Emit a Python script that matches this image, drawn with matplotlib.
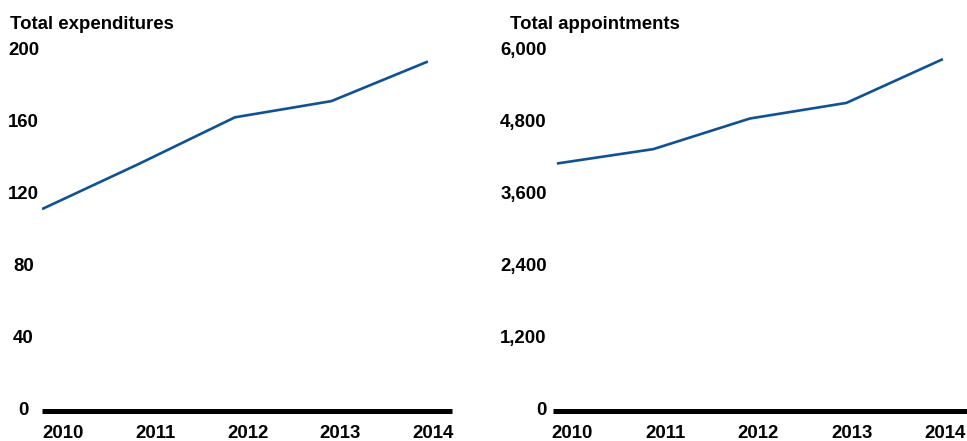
import numpy as np
import matplotlib
matplotlib.use('Agg')
import matplotlib.pyplot as plt

plt.rcParams['font.family'] = ['Liberation Sans', 'DejaVu Sans']
plt.rcParams['font.weight'] = 'bold'

years = ['2010', '2011', '2012', '2013', '2014']
expenditures = [112, 137, 163, 172, 194]
appointments = [4120, 4360, 4870, 5130, 5860]

line_color = '#0f5193'
fs = 13.4

fig = plt.figure(figsize=(9.67, 4.41), dpi=100)

def draw_panel(rect, values, ymax, yticks, ylabels, title, title_x, xlim, label_pos, ha_y, ylab_x):
    ax = fig.add_axes(rect)
    x = np.arange(len(values))
    ax.plot(x, values, color=line_color, linewidth=1.9, solid_capstyle='butt')
    ax.set_xlim(*xlim)
    ax.set_ylim(0, ymax)
    for s in ['top', 'right', 'left']:
        ax.spines[s].set_visible(False)
    ax.spines['bottom'].set_linewidth(3.6)
    ax.spines['bottom'].set_color('black')
    ax.spines['bottom'].set_capstyle('butt')
    ax.set_xticks(label_pos)
    ax.set_xticklabels(years, fontsize=fs, fontweight='bold')
    ax.tick_params(axis='x', length=0, pad=10)
    ax.set_yticks([])
    for v, lab in zip(yticks, ylabels):
        ax.text(ylab_x, v, lab, transform=ax.get_yaxis_transform(), ha=ha_y, va='center',
                fontsize=fs, fontweight='bold', clip_on=False)
    fig.text(title_x, 0.945, title, fontsize=fs, fontweight='bold', ha='left', va='center')
    return ax

draw_panel([0.0434, 0.0687, 0.4240, 0.8163], expenditures, 200,
           [0, 40, 80, 120, 160, 200], ['0', '40', '80', '120', '160', '200'],
           'Total expenditures', 0.0103, (0, 4.25),
           np.linspace(0.22, 4.05, 5), 'center', -0.045)

draw_panel([0.5719, 0.0687, 0.4281, 0.8163], appointments, 6000,
           [0, 1200, 2400, 3600, 4800, 6000], ['0', '1,200', '2,400', '3,600', '4,800', '6,000'],
           'Total appointments', 0.527, (-0.04, 4.25),
           np.linspace(0.155, 4.02, 5), 'right', -0.015)

fig.savefig('out.png', dpi=100)
